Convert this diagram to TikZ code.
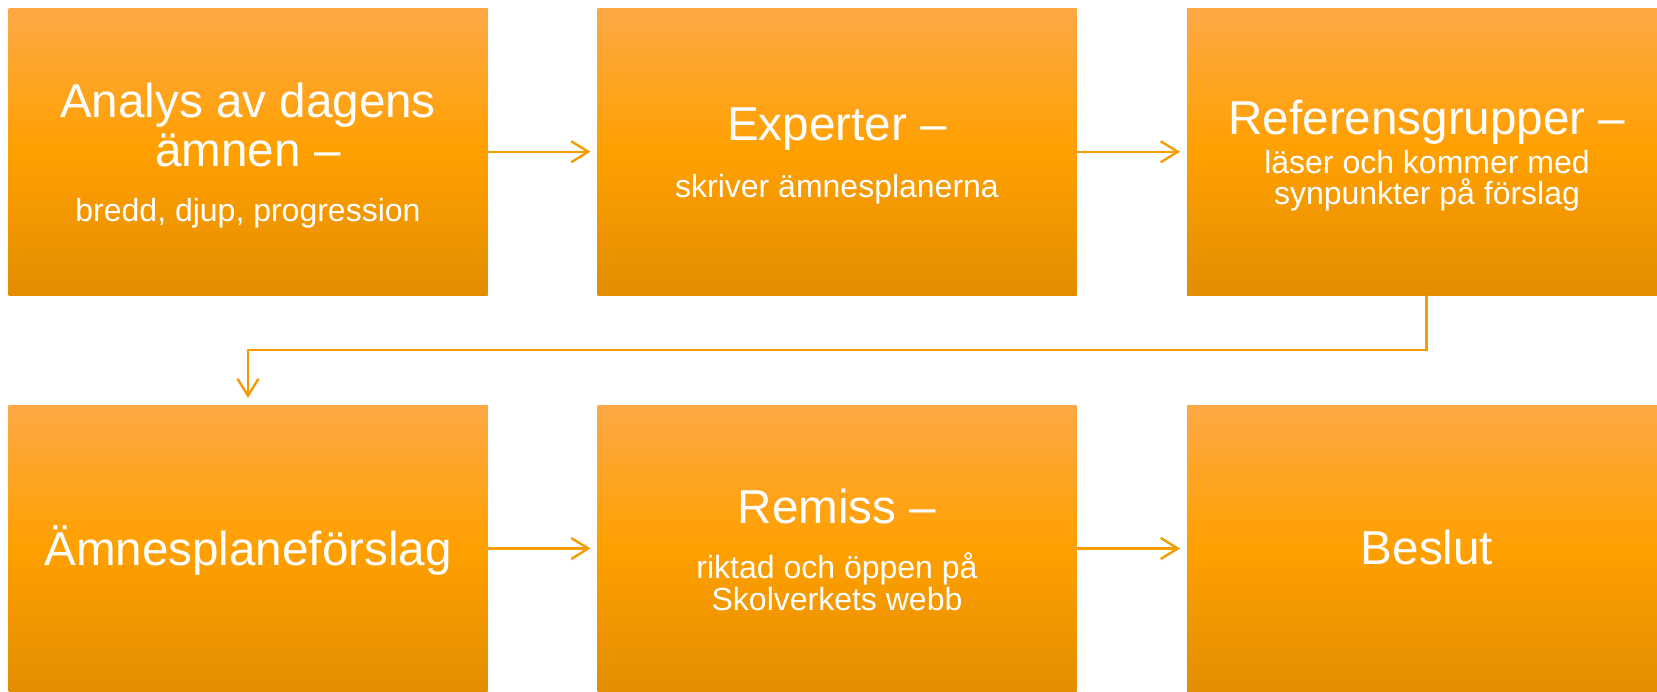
\documentclass[tikz,border=0pt]{standalone}
\usepackage{fontspec}
\setmainfont{Liberation Sans}
\usetikzlibrary{arrows.meta}
\definecolor{boxtop}{HTML}{FEA845}
\definecolor{boxmid}{HTML}{FFA000}
\definecolor{boxbot}{HTML}{E38D00}
\definecolor{arrowc}{HTML}{F59C00}
\tikzset{
  stage/.style={rectangle, inner sep=0pt, outer sep=0pt, minimum width=479pt, minimum height=287pt,
    top color=boxtop, bottom color=boxbot, middle color=boxmid, draw=none},
  headtxt/.style={anchor=base, text=white, inner sep=0pt, font=\fontsize{47.6pt}{49pt}\selectfont},
  subtxt/.style={anchor=base, text=white, inner sep=0pt, font=\fontsize{32pt}{32pt}\selectfont},
  flow/.style={draw=arrowc, line width=2.4pt, -{Straight Barb[length=17pt, width=21pt, line width=2.4pt]}, shorten >=7pt}
}
\begin{document}
\begin{tikzpicture}[x=1pt, y=-1pt]
\useasboundingbox (0,0) rectangle (1657,691);
\clip (0,0) rectangle (1657,691);
\fill[white] (0,0) rectangle (1657,691);
% boxes
\node[stage] (b1) at (248,151.75) {};
\node[stage] (b2) at (837,151.75) {};
\node[stage] (b3) at (1426.5,151.75) {};
\node[stage] (b4) at (248,548.5) {};
\node[stage] (b5) at (837,548.5) {};
\node[stage] (b6) at (1426.5,548.5) {};
% texts
\node[headtxt] (t1a) at (248,117.5) {Analys av dagens};
\node[headtxt] (t1b) at (248,166.5) {ämnen –};
\node[subtxt] (t1c) at (248,221.5) {bredd, djup, progression};
\node[headtxt] (t2a) at (837,140) {Experter –};
\node[subtxt] (t2b) at (837,197) {skriver ämnesplanerna};
\node[headtxt] (t3a) at (1427,134) {Referensgrupper –};
\node[subtxt] (t3b) at (1427,173) {läser och kommer med};
\node[subtxt] (t3c) at (1427,204) {synpunkter på förslag};
\node[headtxt] (t4a) at (248,565) {Ämnesplaneförslag};
\node[headtxt] (t5a) at (837,523) {Remiss –};
\node[subtxt] (t5b) at (837,578) {riktad och öppen på};
\node[subtxt] (t5c) at (837,610) {Skolverkets webb};
\node[headtxt] (t6a) at (1427,564) {Beslut};
% connectors
\draw[flow] (b1.east) -- (b2.west);
\draw[flow] (b2.east) -- (b3.west);
\draw[flow] (b3.south) -- ++(0,55) -| (b4.north);
\draw[flow] (b4.east) -- (b5.west);
\draw[flow] (b5.east) -- (b6.west);
\end{tikzpicture}
\end{document}
